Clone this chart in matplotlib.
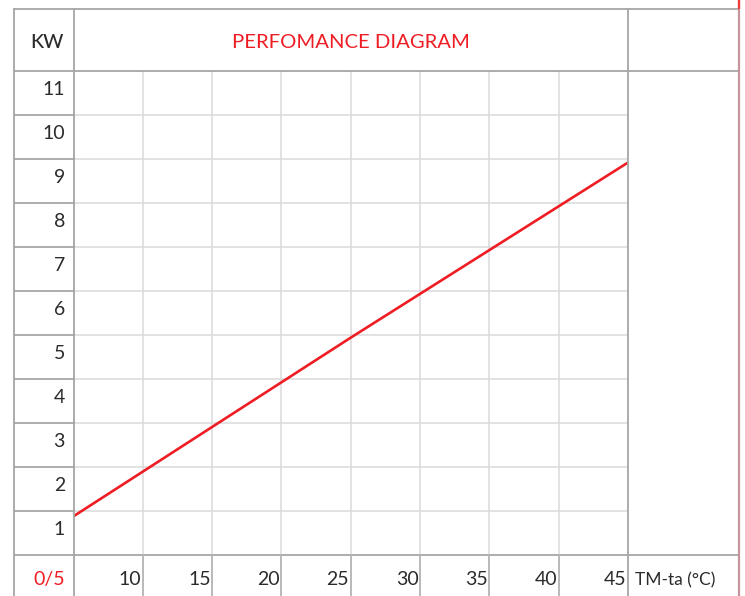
import matplotlib
matplotlib.use("Agg")
import matplotlib.pyplot as plt
from matplotlib.lines import Line2D
from matplotlib import transforms

# ---- data ----
title = "PERFOMANCE DIAGRAM"
y_unit = "KW"
x_unit = "TM-ta (°C)"
origin_label = "0/5"
y_labels = [1, 2, 3, 4, 5, 6, 7, 8, 9, 10, 11]
x_ticks = [10, 15, 20, 25, 30, 35, 40, 45]
line_x = [5, 25, 45]
line_y = [0.88, 4.94, 8.92]

W, H = 745, 596
fig = plt.figure(figsize=(W / 100, H / 100), dpi=100)
plt.rcParams['font.family'] = ['Lato', 'DejaVu Sans']

def fx(px):
    return px / W

def fy(py):
    return 1 - py / H

L_OUT, L_COL, R_COL, R_OUT = 14, 73.5, 628, 738.5
T_OUT, T_HEAD, B_ROW, B_OUT = 9, 71, 555, 596

ax = fig.add_axes([fx(L_COL), fy(B_ROW), fx(R_COL) - fx(L_COL), fy(T_HEAD) - fy(B_ROW)])
ax.set_xlim(5, 45)
ax.set_ylim(0, 11)
for s in ax.spines.values():
    s.set_visible(False)
ax.set_xticks(x_ticks[:-1])
ax.set_yticks(y_labels[:-1])
ax.tick_params(length=0, labelbottom=False, labelleft=False)
ax.grid(True, color='#dadada', lw=1.1)
ax.set_axisbelow(True)

ax.plot(line_x, line_y, color='#ee1d24', lw=1.9, solid_capstyle='butt', zorder=3)

dark = '#a6a6a6'
lw_b = 1.3

def hline(y, x0, x1, c=dark, lw=lw_b):
    fig.add_artist(Line2D([fx(x0), fx(x1)], [fy(y), fy(y)], transform=fig.transFigure, color=c, lw=lw))

def vline(x, y0, y1, c=dark, lw=lw_b):
    fig.add_artist(Line2D([fx(x), fx(x)], [fy(y0), fy(y1)], transform=fig.transFigure, color=c, lw=lw))

# outer table
hline(T_OUT, L_OUT, R_OUT)
hline(T_HEAD, L_OUT, R_OUT)
hline(B_ROW, L_OUT, R_OUT)
vline(L_OUT, T_OUT, B_OUT)
vline(L_COL, T_OUT, B_OUT)
vline(R_COL, T_OUT, B_OUT)
vline(R_OUT, 0, B_OUT, c='#c4969c', lw=1.6)
vline(R_OUT, 0, T_OUT - 1, c='#f03a3a', lw=1.6)

# left column row separators and bottom row separators via data coords
tr_yrow = transforms.blended_transform_factory(fig.transFigure, ax.transData)
for v in y_labels[:-1]:
    fig.add_artist(Line2D([fx(L_OUT), fx(L_COL)], [v, v], transform=tr_yrow, color=dark, lw=lw_b))
tr_xcol = transforms.blended_transform_factory(ax.transData, fig.transFigure)
for t in x_ticks[:-1]:
    fig.add_artist(Line2D([t, t], [fy(B_ROW), fy(B_OUT)], transform=tr_xcol, color='#b3b3b3', lw=lw_b))

txt_c = '#2b2b2b'
red = '#ee1d24'
fs = 14

# header texts
fig.text(fx(64), fy(48), y_unit, ha='right', va='baseline', fontsize=14, color=txt_c, fontweight='medium')
fig.text(fx((L_COL + R_COL) / 2), fy(48), title, ha='center', va='baseline', fontsize=14.6, color=red)

# y labels
for v in y_labels:
    fig.text(fx(65), v - 24 / 44, str(v), ha='right', va='baseline', fontsize=fs, color=txt_c,
             transform=tr_yrow)

# x labels
tr_xl = transforms.offset_copy(tr_xcol, fig=fig, x=-1.5, units='dots')
for t in x_ticks:
    fig.text(t, fy(585), str(t), ha='right', va='baseline', fontsize=fs, color=txt_c, transform=tr_xl)

fig.text(fx(65), fy(585), origin_label, ha='right', va='baseline', fontsize=fs, color=red)
fig.text(fx(635), fy(585), x_unit, ha='left', va='baseline', fontsize=12.5, color=txt_c)

fig.savefig("out.png", dpi=100)
